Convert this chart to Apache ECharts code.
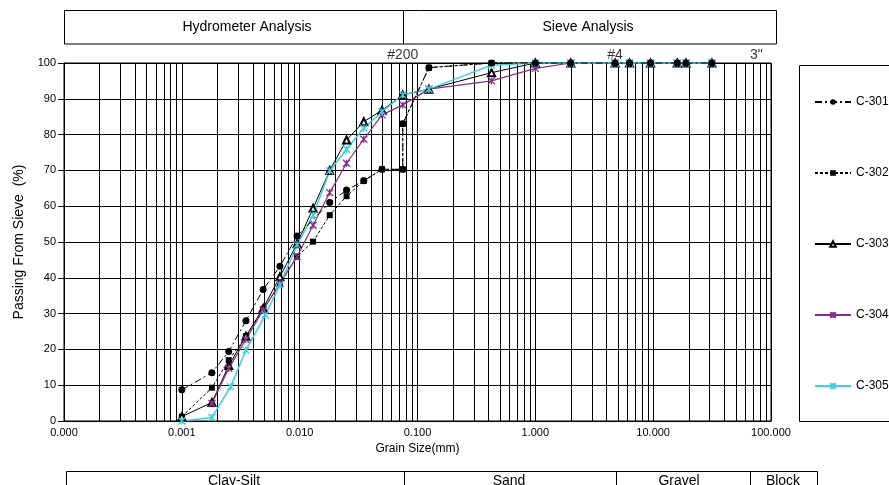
<!DOCTYPE html>
<html>
<head>
<meta charset="utf-8">
<script src="https://cdn.jsdelivr.net/npm/echarts@6/dist/echarts.min.js"></script>
<style>
html,body{margin:0;padding:0;background:#fff;}
#chart{width:889px;height:485px;}
</style>
</head>
<body>
<div id="chart"></div>
<script>
// ---- data (grain size in mm, percent passing) ----
const seriesNames = ['C-301', 'C-302', 'C-303', 'C-304', 'C-305'];

const c301Size = [0.001, 0.0018, 0.0025, 0.0035, 0.0049, 0.0068, 0.0095, 0.018, 0.025, 0.035, 0.05, 0.075, 0.075, 0.125, 0.425, 1, 2, 4.75, 6.3, 9.5, 16, 19, 31.5];
const c301Pass = [8.7, 13.5, 19.4, 28, 36.7, 43.2, 51.7, 61, 64.5, 67.1, 70.3, 70.3, 83, 98.7, 100, 100, 100, 100, 100, 100, 100, 100, 100];

const c302Size = [0.001, 0.0018, 0.0025, 0.0035, 0.0049, 0.0068, 0.0095, 0.013, 0.018, 0.025, 0.035, 0.05, 0.075, 0.075, 0.125, 0.425, 1, 2, 4.75, 6.3, 9.5, 16, 19, 31.5];
const c302Pass = [1.2, 9.3, 17, 23.7, 31.2, 38.3, 45.9, 50.1, 57.5, 62.8, 67.1, 70.3, 70.3, 83, 98.7, 100, 100, 100, 100, 100, 100, 100, 100, 100];

const c303Size = [0.001, 0.0018, 0.0025, 0.0035, 0.0049, 0.0068, 0.0095, 0.013, 0.018, 0.025, 0.035, 0.05, 0.075, 0.125, 0.425, 1, 2, 4.75, 6.3, 9.5, 16, 19, 31.5];
const c303Pass = [1.2, 5.2, 15.5, 23.7, 31.5, 40.3, 49.5, 59.4, 70, 78.5, 83.6, 86.8, 91.1, 92.7, 97.3, 100, 100, 100, 100, 100, 100, 100, 100];

const c304Size = [0.0018, 0.0025, 0.0035, 0.0049, 0.0068, 0.0095, 0.013, 0.018, 0.025, 0.035, 0.05, 0.075, 0.125, 0.425, 1, 2, 4.75, 6.3, 9.5, 16, 19, 31.5];
const c304Pass = [4.9, 14.7, 22.8, 31, 38.5, 45.9, 54.7, 63.8, 72, 78.7, 85.5, 88.3, 92.7, 95, 98.5, 100, 100, 100, 100, 100, 100, 100];

const c305Size = [0.001, 0.0018, 0.0026, 0.0035, 0.0051, 0.0068, 0.0095, 0.013, 0.018, 0.025, 0.035, 0.05, 0.075, 0.125, 0.425, 1, 2, 4.75, 6.3, 9.5, 16, 19, 31.5];
const c305Pass = [0, 1, 9.6, 19.8, 29.6, 38, 49.2, 57.5, 69.9, 75.9, 81.8, 86.4, 91.1, 92.7, 99.4, 100, 100, 100, 100, 100, 100, 100, 100];

// sieve marks shown above the plot
const sieveMarkSize = [0.075, 4.75, 75];
const sieveMarkLabel = ['#200', '#4', '3"'];

// axis settings
const xMin = 0.0001, xMax = 100;
const yMin = 0, yMax = 100, yStep = 10;

// header / classification texts
const headerTexts = ['Hydrometer Analysis', 'Sieve Analysis'];
const classTexts = ['Clay-Silt', 'Sand', 'Gravel', 'Block'];

// ---- helpers ----
function pairs(xs, ys) { return xs.map((x, i) => [x, ys[i]]); }

// minor log grid lines (2..9 x 10^k)
const minorGrid = [];
for (let e = -4; e <= 1; e++) {
  for (let m = 2; m <= 9; m++) minorGrid.push([m * Math.pow(10, e), 0]);
}

const FONT = 'Liberation Sans, Arial, sans-serif';
const starPath = 'path://M0,0L10,10M10,0L0,10M5,0L5,10';
const purple = '#862d86';
const cyan = '#3ccfe0';

const chart = echarts.init(document.getElementById('chart'), null, {renderer: 'canvas'});

const option = {
  animation: false,
  backgroundColor: '#fff',
  textStyle: {fontFamily: FONT, color: '#000'},
  grid: {left: 64, top: 63, width: 707, height: 358, show: true, borderColor: '#000', borderWidth: 1, backgroundColor: 'transparent'},
  legend: {
    data: seriesNames,
    orient: 'vertical',
    left: 814, top: 96,
    padding: 0,
    itemWidth: 36, itemHeight: 7,
    itemGap: 59,
    textStyle: {fontFamily: FONT, fontSize: 12, color: '#000'},
    selectedMode: false
  },
  xAxis: {
    type: 'log', logBase: 10, min: xMin, max: xMax,
    name: 'Grain Size(mm)', nameLocation: 'middle', nameGap: 21,
    nameTextStyle: {fontFamily: FONT, fontSize: 12, color: '#000'},
    axisLine: {show: true, lineStyle: {color: '#000', width: 1}},
    axisTick: {show: false},
    axisLabel: {fontFamily: FONT, fontSize: 11, color: '#000', margin: 6, formatter: v => v.toFixed(3)},
    splitLine: {show: true, lineStyle: {color: '#000', width: 1}}
  },
  yAxis: {
    type: 'value', min: yMin, max: yMax, interval: yStep,
    name: 'Passing From Sieve  (%)', nameLocation: 'middle', nameGap: 38,
    nameTextStyle: {fontFamily: FONT, fontSize: 14, color: '#000'},
    axisLine: {show: true, lineStyle: {color: '#000', width: 1}},
    axisTick: {show: true, length: 6, lineStyle: {color: '#000'}},
    axisLabel: {fontFamily: FONT, fontSize: 11, color: '#000', margin: 8},
    splitLine: {show: true, lineStyle: {color: '#000', width: 1}}
  },
  series: [
    {
      type: 'custom', name: 'minorGrid', silent: true, z: 1,
      data: minorGrid,
      encode: {x: 0, y: 1},
      renderItem: function (params, api) {
        const v = api.value(0);
        const p0 = api.coord([v, yMin]);
        const p1 = api.coord([v, yMax]);
        const x = Math.round(p0[0]) + 0.5;
        return {type: 'line', shape: {x1: x, y1: p0[1], x2: x, y2: p1[1]}, style: {stroke: '#000', lineWidth: 1}};
      }
    },
    {
      name: 'C-302', type: 'line', data: pairs(c302Size, c302Pass), z: 4, clip: false,
      symbol: 'rect', symbolSize: 6,
      itemStyle: {color: '#000'},
      lineStyle: {color: '#000', width: 1, type: [3, 2]}
    },
    {
      name: 'C-303', type: 'line', data: pairs(c303Size, c303Pass), z: 4, clip: false,
      symbol: 'emptyTriangle', symbolSize: 7,
      itemStyle: {color: '#000', borderColor: '#000', borderWidth: 1},
      lineStyle: {color: '#000', width: 1, type: 'solid'}
    },
    {
      name: 'C-304', type: 'line', data: pairs(c304Size, c304Pass), z: 4, clip: false,
      symbol: starPath, symbolSize: 7,
      itemStyle: {color: purple, borderColor: purple, borderWidth: 1.3},
      lineStyle: {color: purple, width: 1.2, type: 'solid'}
    },
    {
      name: 'C-305', type: 'line', data: pairs(c305Size, c305Pass), z: 4, clip: false,
      symbol: starPath, symbolSize: 7,
      itemStyle: {color: cyan, borderColor: cyan, borderWidth: 1.3},
      lineStyle: {color: cyan, width: 1.5, type: 'solid'}
    },
    {
      name: 'C-301', type: 'line', data: pairs(c301Size, c301Pass), z: 5, clip: false,
      symbol: 'circle', symbolSize: 7,
      itemStyle: {color: '#000'},
      lineStyle: {color: '#000', width: 1, type: [7, 3, 2, 3]}
    },
    {
      name: 'sieveMarks', type: 'scatter', silent: true, z: 6, clip: false,
      symbolSize: 0,
      data: sieveMarkSize.map((s, i) => ({value: [s, yMax], name: sieveMarkLabel[i]})),
      label: {show: true, position: 'top', distance: 1, formatter: p => p.name, fontFamily: FONT, fontSize: 14, color: '#000'}
    }
  ],
  graphic: [
    // header boxes
    {type: 'rect', shape: {x: 64.5, y: 10.5, width: 712, height: 33.5}, style: {fill: 'none', stroke: '#000', lineWidth: 1}, silent: true},
    {type: 'line', shape: {x1: 403.5, y1: 10.5, x2: 403.5, y2: 44}, style: {stroke: '#000', lineWidth: 1}, silent: true},
    {type: 'text', x: 247, y: 27.5, style: {text: headerTexts[0], font: '14px ' + FONT, fill: '#000', textAlign: 'center', textVerticalAlign: 'middle'}, silent: true},
    {type: 'text', x: 588, y: 27.5, style: {text: headerTexts[1], font: '14px ' + FONT, fill: '#000', textAlign: 'center', textVerticalAlign: 'middle'}, silent: true},
    // legend box
    {type: 'rect', shape: {x: 799.5, y: 65.5, width: 120, height: 356}, style: {fill: 'none', stroke: '#000', lineWidth: 1}, silent: true},
    // classification table
    {type: 'rect', shape: {x: 66.5, y: 471.5, width: 751, height: 40}, style: {fill: 'none', stroke: '#000', lineWidth: 1}, silent: true},
    {type: 'line', shape: {x1: 404.5, y1: 471.5, x2: 404.5, y2: 500}, style: {stroke: '#000', lineWidth: 1}, silent: true},
    {type: 'line', shape: {x1: 616.5, y1: 471.5, x2: 616.5, y2: 500}, style: {stroke: '#000', lineWidth: 1}, silent: true},
    {type: 'line', shape: {x1: 750.5, y1: 471.5, x2: 750.5, y2: 500}, style: {stroke: '#000', lineWidth: 1}, silent: true},
    {type: 'text', x: 234, y: 481, style: {text: classTexts[0], font: '14px ' + FONT, fill: '#000', textAlign: 'center', textVerticalAlign: 'middle'}, silent: true},
    {type: 'text', x: 509, y: 481, style: {text: classTexts[1], font: '14px ' + FONT, fill: '#000', textAlign: 'center', textVerticalAlign: 'middle'}, silent: true},
    {type: 'text', x: 679, y: 481, style: {text: classTexts[2], font: '14px ' + FONT, fill: '#000', textAlign: 'center', textVerticalAlign: 'middle'}, silent: true},
    {type: 'text', x: 783, y: 481, style: {text: classTexts[3], font: '14px ' + FONT, fill: '#000', textAlign: 'center', textVerticalAlign: 'middle'}, silent: true}
  ]
};

chart.setOption(option);
</script>
</body>
</html>
